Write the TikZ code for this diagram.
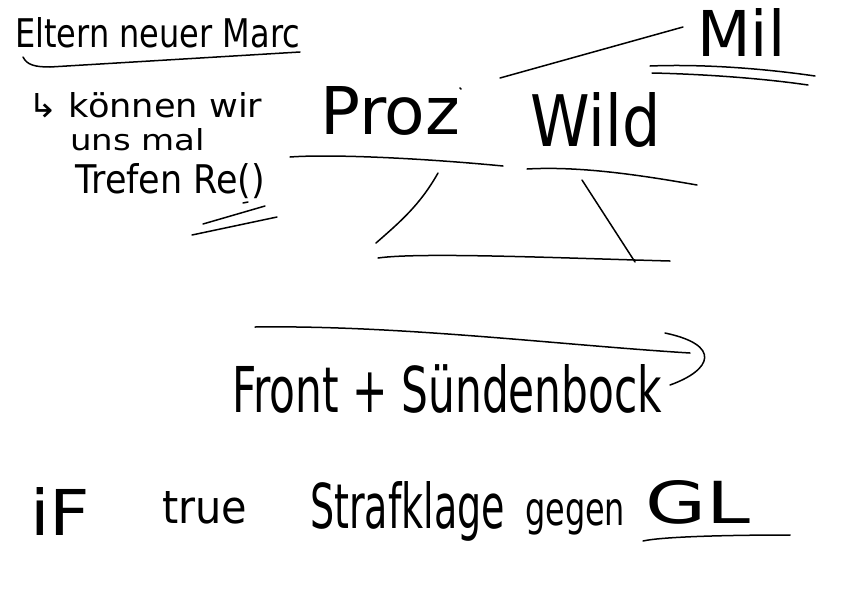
\documentclass[tikz,border=0pt]{standalone}
\usepackage{fontspec}
\setmainfont{DejaVu Sans}
\newcommand{\hwtxt}[3]{\resizebox{#1}{#2}{#3}}
\begin{document}
\begin{tikzpicture}[x=1pt,y=-1pt,
  ink/.style={line width=1.5pt,line cap=round,line join=round,black},
  hw/.style={inner sep=0pt,anchor=base west,font=\mdseries}]
\useasboundingbox[fill=white] (0,0) rectangle (842,595);
% texts
\node[hw] (eltern) at (15,47) {\hwtxt{285pt}{30pt}{Eltern neuer Marc}};
\node[hw] (koennen) at (28,117) {\hwtxt{234pt}{25pt}{↳ können wir}};
\node[hw] (uns) at (70,150) {\hwtxt{135pt}{22pt}{uns mal}};
\node[hw] (trefen) at (75,193) {\hwtxt{190pt}{30pt}{Trefen Re()}};
\node[hw] (proz) at (320,134) {\hwtxt{140pt}{48pt}{Proz}};
\node[hw] (wild) at (530,146) {\hwtxt{130pt}{54pt}{Wild}};
\node[hw] (mil) at (697,56) {\hwtxt{88pt}{48pt}{Mil}};
\node[hw] (front) at (232,412) {\hwtxt{430pt}{48pt}{Front + Sündenbock}};
\node[hw] (if) at (30,535) {\hwtxt{60pt}{48pt}{iF}};
\node[hw] (true) at (162,523) {\hwtxt{85pt}{32pt}{true}};
\node[hw] (straf) at (310,528) {\hwtxt{195pt}{47pt}{Strafklage}};
\node[hw] (gegen) at (525,525) {\hwtxt{100pt}{26pt}{gegen}};
\node[hw] (gl) at (645,523) {\hwtxt{105pt}{43pt}{GL}};
% strokes
\draw[ink] (23,57) .. controls (27,65) and (35,67) .. (50,67) -- (300,52);
\draw[ink] (192,235) -- (277,217);
\draw[ink] (203,224) -- (265,206);
\draw[ink] (243,203) -- (248,202);
\draw[ink] (500,78) -- (683,27);
\draw[ink] (650,66) .. controls (700,64) and (760,68) .. (815,76);
\draw[ink] (652,73) .. controls (700,74) and (760,78) .. (808,85);
\draw[ink] (460,88) -- (461,89);
\draw[ink] (290,157) .. controls (330,154) and (420,158) .. (503,166);
\draw[ink] (527,169) .. controls (580,166) and (640,175) .. (697,185);
\draw[ink] (438,173) .. controls (420,205) and (400,222) .. (376,243);
\draw[ink] (582,180) -- (635,262);
\draw[ink] (378,258) .. controls (420,252) and (560,258) .. (670,261);
\draw[ink] (255,327) .. controls (400,325) and (560,345) .. (690,353);
\draw[ink] (665,333) .. controls (722,345) and (712,370) .. (670,385);
\draw[ink] (643,541) .. controls (660,537) and (720,535) .. (790,535);
\end{tikzpicture}
\end{document}
